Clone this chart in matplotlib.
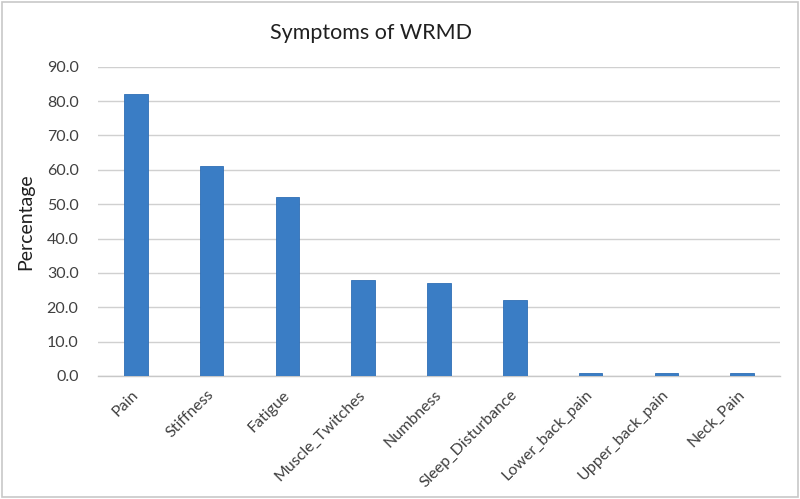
import matplotlib.pyplot as plt
from matplotlib.patches import Rectangle

# data
symptoms = ['Pain', 'Stiffness', 'Fatigue', 'Muscle_Twitches', 'Numbness',
            'Sleep_Disturbance', 'Lower_back_pain', 'Upper_back_pain', 'Neck_Pain']
percent = [82.0, 61.0, 52.0, 28.0, 27.0, 22.0, 1.0, 1.0, 1.0]
yticks = [0, 10, 20, 30, 40, 50, 60, 70, 80, 90]

plt.rcParams['font.family'] = ['Lato', 'DejaVu Sans']

fig = plt.figure(figsize=(8, 4.99), dpi=100)
ax = fig.add_axes([0.1225, 0.2465, 0.8525, 0.6198])

x = range(len(symptoms))
ax.bar(x, percent, width=0.31, color='#3A7DC5', edgecolor='#2F6FB5', linewidth=0.6, zorder=3)

ax.set_xlim(-0.5, len(symptoms) - 0.5)
ax.set_ylim(0, 90)
ax.set_yticks(yticks)
ax.set_yticklabels([f'{v:.1f}' for v in yticks], fontsize=11.5, color='#404040')
ax.set_xticks(list(x))
ax.set_xticklabels(symptoms, rotation=45, ha='right', va='center', rotation_mode='anchor',
                   fontsize=11.5, color='#404040')
ax.tick_params(axis='both', length=0)
ax.tick_params(axis='y', pad=14)
ax.tick_params(axis='x', pad=12)

ax.grid(axis='y', color='#D0D0D0', linewidth=1.0, zorder=0)
for s in ['top', 'right', 'left']:
    ax.spines[s].set_visible(False)
ax.spines['bottom'].set_color('#C8C8C8')
ax.spines['bottom'].set_linewidth(1.0)

ax.set_ylabel('Percentage', fontsize=14, color='#202020', labelpad=9)

fig.text(0.464, 0.934, 'Symptoms of WRMD', ha='center', va='center',
         fontsize=15.5, color='#202020')

# chart border like the spreadsheet export
fig.patches.append(Rectangle((0.003, 0.004), 0.994, 0.992, transform=fig.transFigure,
                             fill=False, edgecolor='#C8C8C8', linewidth=1.2))

fig.savefig('out.png', dpi=100)
